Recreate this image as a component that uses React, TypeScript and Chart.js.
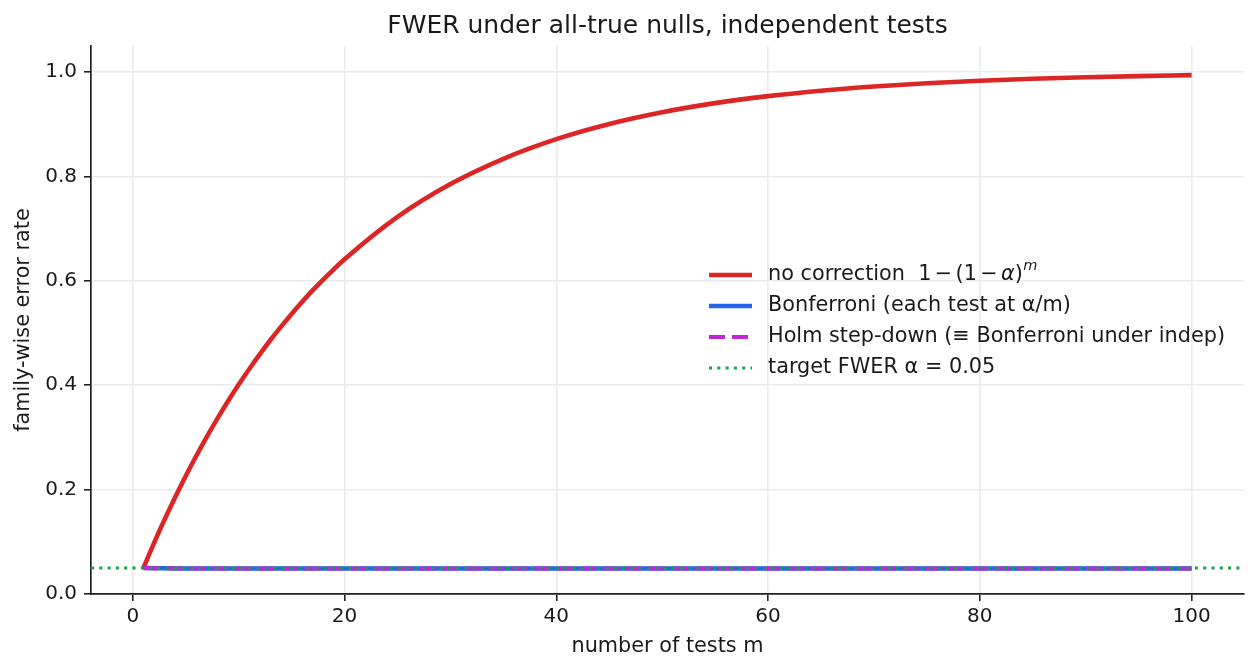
import { useEffect, useRef } from "react";
import { Chart, registerables } from "chart.js";

Chart.register(...registerables);

const TITLE = "FWER under all-true nulls, independent tests";
const X_LABEL = "number of tests m";
const Y_LABEL = "family-wise error rate";

const X_TICKS = [0, 20, 40, 60, 80, 100];
const Y_TICKS = [0, 0.2, 0.4, 0.6, 0.8, 1.0];
const X_MIN = -3.95;
const X_MAX = 104.95;
const Y_MIN = 0;
const Y_MAX = 1.05;

const M_VALUES = [
  1, 2, 3, 4, 5, 6, 7, 8, 9, 10, 11, 12, 13, 14, 15, 16, 17, 18, 19, 20,
  25, 30, 35, 40, 45, 50, 55, 60, 65, 70, 75, 80, 85, 90, 95, 100,
];
const NO_CORRECTION = [
  0.05, 0.0975, 0.1426, 0.1855, 0.2262, 0.2649, 0.3017, 0.3366, 0.3698, 0.4013,
  0.4312, 0.4596, 0.4867, 0.5123, 0.5367, 0.5599, 0.5822, 0.6028, 0.6226, 0.6415,
  0.7226, 0.7854, 0.8339, 0.8715, 0.9006, 0.9231, 0.9405, 0.9539, 0.9644, 0.9724,
  0.9787, 0.9835, 0.9872, 0.9901, 0.9923, 0.9941,
];
const BONFERRONI = [
  0.05, 0.0494, 0.0492, 0.0491, 0.049, 0.049, 0.0489, 0.0489, 0.0489, 0.0489,
  0.0489, 0.0489, 0.0489, 0.0489, 0.0488, 0.0488, 0.0488, 0.0488, 0.0488, 0.0488,
  0.0488, 0.0488, 0.0488, 0.0488, 0.0488, 0.0488, 0.0488, 0.0488, 0.0488, 0.0488,
  0.0488, 0.0488, 0.0488, 0.0488, 0.0488, 0.0488,
];
const HOLM = [
  0.05, 0.0494, 0.0492, 0.0491, 0.049, 0.049, 0.0489, 0.0489, 0.0489, 0.0489,
  0.0489, 0.0489, 0.0489, 0.0489, 0.0488, 0.0488, 0.0488, 0.0488, 0.0488, 0.0488,
  0.0488, 0.0488, 0.0488, 0.0488, 0.0488, 0.0488, 0.0488, 0.0488, 0.0488, 0.0488,
  0.0488, 0.0488, 0.0488, 0.0488, 0.0488, 0.0488,
];
const TARGET_ALPHA = 0.05;

const SERIES_LABELS = [
  "no correction  1 − (1 − α)^m",
  "Bonferroni (each test at α/m)",
  "Holm step-down (≡ Bonferroni under indep)",
  "target FWER α = 0.05",
];

const FONT = '"DejaVu Sans", "Noto Sans", sans-serif';
const TEXT = "#1a1a1a";

function drawRichLabel(ctx: CanvasRenderingContext2D, idx: number, x: number, y: number, size: number) {
  ctx.textBaseline = "middle";
  ctx.textAlign = "left";
  ctx.fillStyle = TEXT;
  if (idx !== 0) {
    ctx.font = `${size}px ${FONT}`;
    ctx.fillText(SERIES_LABELS[idx], x, y);
    return;
  }
  const parts: [string, string, number, number, number][] = [
    ["no correction  1", "", 1, 0, 0.16],
    ["−", "", 1, 0, 0.16],
    ["(1", "", 1, 0, 0.16],
    ["−", "", 1, 0, 0.16],
    ["α", "italic ", 1, 0, 0],
    [")", "", 1, 0, 0.02],
    ["m", "italic ", 0.7, -0.42, 0],
  ];
  let cx = x;
  for (const [t, style, scale, dy, gap] of parts) {
    ctx.font = `${style}${size * scale}px ${FONT}`;
    ctx.fillText(t, cx, y + dy * size);
    cx += ctx.measureText(t).width + gap * size;
  }
}

const overlayPlugin = {
  id: "overlay",
  afterDraw(chart: any) {
    const { ctx, chartArea } = chart;
    ctx.save();
    ctx.fillStyle = TEXT;
    ctx.textAlign = "center";
    ctx.textBaseline = "middle";
    ctx.font = `25px ${FONT}`;
    const cx = (chartArea.left + chartArea.right) / 2;
    ctx.fillText(TITLE, cx, 26);
    ctx.font = `20.8px ${FONT}`;
    ctx.fillText(X_LABEL, cx, 647);
    ctx.save();
    ctx.translate(24, (chartArea.top + chartArea.bottom) / 2);
    ctx.rotate(-Math.PI / 2);
    ctx.fillText(Y_LABEL, 0, 0);
    ctx.restore();

    const x0 = 709;
    const x1 = 752;
    const tx = 768;
    const rowY = [275, 306, 337, 368];
    chart.data.datasets.forEach((ds: any, i: number) => {
      const y = rowY[i];
      ctx.save();
      ctx.strokeStyle = ds.borderColor;
      ctx.lineWidth = ds.borderWidth;
      ctx.setLineDash(ds.borderDash || []);
      ctx.lineCap = "butt";
      ctx.beginPath();
      ctx.moveTo(x0, y);
      ctx.lineTo(x1, y);
      ctx.stroke();
      ctx.restore();
      drawRichLabel(ctx, i, tx, y, 20.8);
    });
    ctx.restore();
  },
};

export default function App() {
  const ref = useRef<HTMLCanvasElement | null>(null);

  useEffect(() => {
    if (!ref.current) return;
    document.body.style.margin = "0";
    const toXY = (ys: number[]) => M_VALUES.map((m, i) => ({ x: m, y: ys[i] }));

    const chart = new Chart(ref.current, {
      type: "line",
      data: {
        datasets: [
          {
            label: SERIES_LABELS[0],
            data: toXY(NO_CORRECTION),
            borderColor: "#dc2626",
            borderWidth: 4.6,
            pointRadius: 0,
            cubicInterpolationMode: "monotone",
            order: 3,
          },
          {
            label: SERIES_LABELS[1],
            data: toXY(BONFERRONI),
            borderColor: "#2563eb",
            borderWidth: 4.6,
            pointRadius: 0,
            order: 2,
          },
          {
            label: SERIES_LABELS[2],
            data: toXY(HOLM),
            borderColor: "#c026d3",
            borderWidth: 4,
            borderDash: [16, 7],
            pointRadius: 0,
            order: 1,
          },
          {
            label: SERIES_LABELS[3],
            data: [
              { x: X_MIN, y: TARGET_ALPHA },
              { x: X_MAX, y: TARGET_ALPHA },
            ],
            borderColor: "#16a34a",
            borderWidth: 3,
            borderDash: [3, 5.3],
            pointRadius: 0,
            order: 0,
          },
        ] as any,
      },
      options: {
        responsive: false,
        animation: false,
        events: [],
        layout: { padding: { left: 0, top: 46, right: 15, bottom: 0 } },
        plugins: {
          legend: { display: false },
          title: { display: false },
          tooltip: { enabled: false },
        },
        scales: {
          x: {
            type: "linear",
            min: X_MIN,
            max: X_MAX,
            afterBuildTicks: (s: any) => {
              s.ticks = X_TICKS.map((v) => ({ value: v }));
            },
            afterFit: (s: any) => {
              s.height = 78;
            },
            ticks: {
              color: TEXT,
              font: { family: FONT, size: 20 },
              padding: 4,
              maxRotation: 0,
              callback: (v: any) => String(v),
            },
            grid: {
              color: "#ebebeb",
              lineWidth: 1.6,
              tickColor: "#222",
              tickLength: 7,
              tickWidth: 1.6,
            },
            border: { display: true, color: "#222", width: 1.7 },
          },
          y: {
            type: "linear",
            min: Y_MIN,
            max: Y_MAX,
            afterBuildTicks: (s: any) => {
              s.ticks = Y_TICKS.map((v) => ({ value: v }));
            },
            afterFit: (s: any) => {
              s.width = 91;
            },
            ticks: {
              color: TEXT,
              font: { family: FONT, size: 20 },
              padding: 7,
              callback: (v: any) => Number(v).toFixed(1),
            },
            grid: {
              color: "#ebebeb",
              lineWidth: 1.6,
              tickColor: "#222",
              tickLength: 7,
              tickWidth: 1.6,
            },
            border: { display: true, color: "#222", width: 1.7 },
          },
        },
      } as any,
      plugins: [overlayPlugin],
    });
    return () => chart.destroy();
  }, []);

  return (
    <div style={{ position: "absolute", left: 0, top: 0, width: 1259, height: 672, background: "#fff" }}>
      <canvas ref={ref} width={1259} height={672} style={{ width: 1259, height: 672, display: "block" }} />
    </div>
  );
}
